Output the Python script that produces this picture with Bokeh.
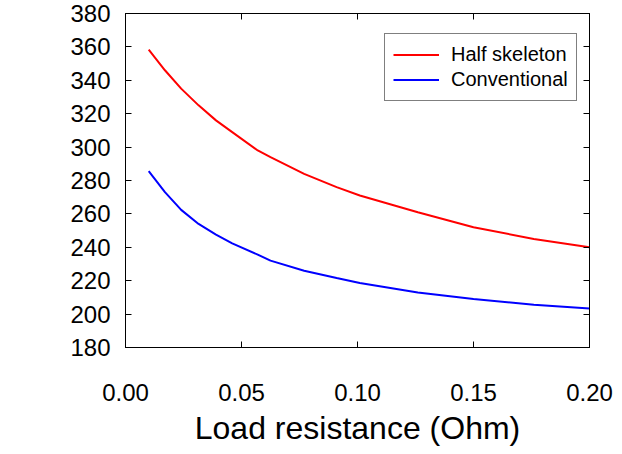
from bokeh.plotting import figure
from bokeh.models import LinearAxis, FixedTicker, Legend, LegendItem, Range1d
from bokeh.embed import file_html
from bokeh.resources import INLINE

# data
load_resistance = [0.010, 0.017, 0.024, 0.0315, 0.039, 0.046, 0.057, 0.0625, 0.077, 0.091, 0.101, 0.126, 0.150, 0.176, 0.200]
half_skeleton = [358.4, 346.0, 335.0, 325.0, 316.0, 309.0, 298.0, 294.0, 284.0, 276.0, 271.0, 261.0, 252.0, 245.0, 240.0]
conventional = [285.6, 273.0, 262.4, 254.0, 247.6, 242.4, 235.6, 232.0, 226.0, 221.6, 218.6, 213.0, 209.0, 205.6, 203.4]

x_ticks = [0.0, 0.05, 0.10, 0.15, 0.20]
x_tick_labels = ["0.00", "0.05", "0.10", "0.15", "0.20"]
y_ticks = [180, 200, 220, 240, 260, 280, 300, 320, 340, 360, 380]
y_tick_labels = [str(v) for v in y_ticks]

FONT = "Liberation Sans"

p = figure(width=622, height=454, output_backend="svg", toolbar_location=None,
           x_range=Range1d(0.0, 0.20), y_range=Range1d(180, 380),
           min_border_left=125, min_border_right=33, min_border_top=13, min_border_bottom=107,
           x_axis_label="Load resistance (Ohm)")
p.xgrid.visible = False
p.ygrid.visible = False
p.outline_line_color = "black"
p.outline_line_width = 1
p.background_fill_color = "white"
p.border_fill_color = "white"

def style_axis(ax, ticks, labels=None):
    ax.ticker = FixedTicker(ticks=ticks)
    ax.axis_line_color = "black"
    ax.major_tick_line_color = "black"
    ax.major_tick_in = 6
    ax.major_tick_out = 0
    ax.minor_tick_line_color = None
    ax.major_label_text_font = FONT
    ax.major_label_text_color = "black"
    ax.major_label_text_font_size = "24px"
    if labels is None:
        ax.major_label_overrides = {t: "" for t in ticks}
        ax.major_label_standoff = 0
    else:
        ax.major_label_overrides = {t: l for t, l in zip(ticks, labels)}

xa = p.xaxis[0]
ya = p.yaxis[0]
style_axis(xa, x_ticks, x_tick_labels)
style_axis(ya, y_ticks, y_tick_labels)
xa.major_label_standoff = 36
ya.major_label_standoff = 15
xa.axis_label_text_font = FONT
xa.axis_label_text_font_style = "normal"
xa.axis_label_text_font_size = "32px"
xa.axis_label_text_color = "black"
xa.axis_label_standoff = 6

top = LinearAxis()
right = LinearAxis()
style_axis(top, x_ticks, None)
style_axis(right, y_ticks, None)
p.add_layout(top, "above")
p.add_layout(right, "right")

r1 = p.line(load_resistance, half_skeleton, line_color="#ff0000", line_width=2)
r2 = p.line(load_resistance, conventional, line_color="#0000ff", line_width=2)

legend = Legend(items=[LegendItem(label="Half skeleton", renderers=[r1]),
                       LegendItem(label="Conventional", renderers=[r2])],
                location=(259, 246))
legend.border_line_color = "black"
legend.border_line_width = 1
legend.background_fill_alpha = 1
legend.label_text_font = FONT
legend.label_text_font_size = "20px"
legend.label_text_color = "black"
legend.glyph_width = 46
legend.glyph_height = 25
legend.label_height = 25
legend.label_standoff = 12
legend.spacing = 0
legend.padding = 8
legend.margin = 0
p.add_layout(legend, "center")

open("out.html", "w").write(file_html(p, INLINE))
